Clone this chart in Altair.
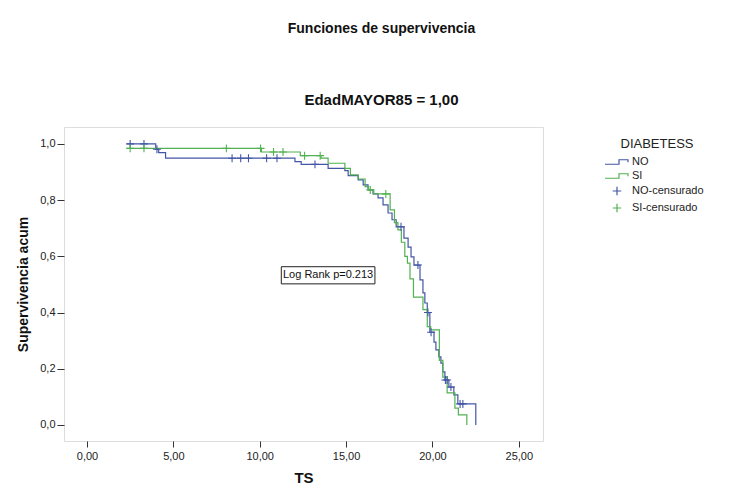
import altair as alt
import pandas as pd

FONT = "Liberation Sans"

# Kaplan-Meier step curves (time, cumulative survival after each event)
NO_TIEMPO = [2.3, 3.98, 4.15, 4.55, 12.04, 12.40, 13.96, 14.93, 15.12, 15.7, 15.99, 16.27,
             16.56, 16.85, 17.14, 17.43, 17.66, 17.9, 18.35, 18.59, 18.76, 18.93, 19.28,
             19.45, 19.56, 19.7, 19.85, 20.09, 20.2, 20.37, 20.49, 20.6, 20.72, 20.95,
             21.24, 21.47, 22.51]
NO_SUPERV = [1.0, 0.981, 0.969, 0.949, 0.937, 0.927, 0.913, 0.905, 0.887, 0.872, 0.854, 0.836,
             0.822, 0.808, 0.783, 0.754, 0.73, 0.705, 0.665, 0.633, 0.598, 0.569, 0.516,
             0.47, 0.434, 0.40, 0.33, 0.295, 0.267, 0.242, 0.22, 0.189, 0.16, 0.135,
             0.107, 0.075, 0.0]

SI_TIEMPO = [2.3, 10.1, 12.35, 13.55, 13.96, 14.93, 15.25, 15.7, 16.1, 16.3, 16.6, 17.55,
             17.8, 18.0, 18.2, 18.4, 18.55, 18.7, 18.9, 19.45, 19.7, 19.9, 20.4, 20.6,
             20.85, 21.3, 21.5, 21.99]
SI_SUPERV = [0.984, 0.971, 0.958, 0.949, 0.931, 0.913, 0.89, 0.875, 0.848, 0.836, 0.822, 0.765,
             0.72, 0.694, 0.65, 0.60, 0.576, 0.52, 0.455, 0.41, 0.35, 0.338, 0.23, 0.17,
             0.114, 0.06, 0.036, 0.0]

# censored observation times
NO_CENSURA = [2.5, 3.3, 4.05, 8.4, 8.9, 9.35, 10.4, 11.0, 13.2, 18.18, 19.16, 19.74,
              19.92, 20.75, 20.85, 21.07, 21.6, 21.76]
SI_CENSURA = [2.5, 3.3, 8.07, 10.05, 10.8, 11.35, 12.6, 13.5, 16.4, 17.3]

GRUPOS = ["NO", "SI", "NO-censurado", "SI-censurado"]
COLORES = ["#4356a6", "#52b150", "#4356a6", "#52b150"]
STEP_PATH = "M-2.4,0.45H0.4V-0.45H2.2V0.05"
CROSS_PATH = "M-0.85,0H0.85M0,-0.85V0.85"
FORMAS = [STEP_PATH, STEP_PATH, CROSS_PATH, CROSS_PATH]

X_TICKS = [0, 5, 10, 15, 20, 25]
Y_TICKS = [0.0, 0.2, 0.4, 0.6, 0.8, 1.0]

LOG_RANK_TEXTO = "Log Rank p=0.213"
LOG_RANK_CAJA = {"x": 11.25, "x2": 16.67, "y": 0.502, "y2": 0.563}


def superv_en(t, tiempos, superv):
    val = superv[0]
    for ti, si in zip(tiempos, superv):
        if ti <= t:
            val = si
    return val


curvas = pd.DataFrame(
    [{"TS": t, "S": s, "leyenda": "NO"} for t, s in zip(NO_TIEMPO, NO_SUPERV)]
    + [{"TS": t, "S": s, "leyenda": "SI"} for t, s in zip(SI_TIEMPO, SI_SUPERV)]
)
censuras = pd.DataFrame(
    [{"TS": t, "S": superv_en(t, NO_TIEMPO, NO_SUPERV), "leyenda": "NO-censurado"} for t in NO_CENSURA]
    + [{"TS": t, "S": superv_en(t, SI_TIEMPO, SI_SUPERV), "leyenda": "SI-censurado"} for t in SI_CENSURA]
)
caja = pd.DataFrame([dict(LOG_RANK_CAJA, texto=LOG_RANK_TEXTO)])

xscale = alt.Scale(domain=[-1.33, 26.4], nice=False, zero=False)
yscale = alt.Scale(domain=[-0.057, 1.06], nice=False, zero=False)
color_scale = alt.Scale(domain=GRUPOS, range=COLORES)
shape_scale = alt.Scale(domain=GRUPOS, range=FORMAS)

x_axis = alt.Axis(values=X_TICKS, title="TS", grid=False, domain=False,
                  labelExpr="replace(format(datum.value, '.2f'), '.', ',')",
                  tickSize=6, tickColor="#333", labelFontSize=11, labelFont=FONT,
                  labelColor="#222", labelPadding=3, titleFontSize=15, titleFont=FONT,
                  titleFontWeight="bold", titleColor="#111", titlePadding=9)
y_axis = alt.Axis(values=Y_TICKS, title="Supervivencia acum", grid=False, domain=False,
                  labelExpr="replace(format(datum.value, '.1f'), '.', ',')",
                  tickSize=7, tickColor="#333", labelFontSize=11, labelFont=FONT,
                  labelColor="#222", labelPadding=2, titleFontSize=14, titleFont=FONT,
                  titleFontWeight="bold", titleColor="#111", titlePadding=9)

leyenda = alt.Legend(title="DIABETESS", orient="none", legendX=547, legendY=11,
                     titleFontSize=13, titleFontWeight="normal", titleFont=FONT,
                     titleColor="#222", titleAnchor="middle", titlePadding=5,
                     labelFontSize=11, labelFont=FONT, labelColor="#222",
                     symbolSize=100, symbolStrokeWidth=1.2, labelOffset=9, rowPadding=3,
                     symbolFillColor="transparent")

lineas = alt.Chart(curvas).mark_line(interpolate="step-after", strokeWidth=1.2).encode(
    x=alt.X("TS:Q", scale=xscale, axis=x_axis),
    y=alt.Y("S:Q", scale=yscale, axis=y_axis),
    color=alt.Color("leyenda:N", scale=color_scale, legend=leyenda),
    detail="leyenda:N",
)

puntos = alt.Chart(censuras).mark_point(filled=False, size=88, strokeWidth=1.1, opacity=1).encode(
    x=alt.X("TS:Q", scale=xscale),
    y=alt.Y("S:Q", scale=yscale),
    color=alt.Color("leyenda:N", scale=color_scale, legend=leyenda),
    shape=alt.Shape("leyenda:N", scale=shape_scale, legend=leyenda),
)

rect = alt.Chart(caja).mark_rect(fill="white", stroke="#222", strokeWidth=1).encode(
    x="x:Q", x2="x2:Q", y="y:Q", y2="y2:Q"
)
texto = alt.Chart(caja).mark_text(font=FONT, fontSize=11, color="#111").transform_calculate(
    xc="(datum.x + datum.x2) / 2", yc="(datum.y + datum.y2) / 2"
).encode(x="xc:Q", y="yc:Q", text="texto:N")

chart = alt.layer(lineas, puntos, rect, texto).properties(
    width=479, height=314,
    padding={"left": 8, "top": 14, "right": 5, "bottom": 5},
    title=alt.TitleParams(
        text="Funciones de supervivencia", subtitle="EdadMAYOR85 = 1,00",
        anchor="middle", frame="group", dx=78,
        font=FONT, fontSize=14, fontWeight="bold", color="#111",
        subtitleFont=FONT, subtitleFontSize=15, subtitleFontWeight="bold",
        subtitleColor="#111", subtitlePadding=57, offset=19,
    ),
).configure_view(fill="#f0f0f0", stroke="#404040", strokeWidth=1
).configure(background="white")

chart.save("out.html", embed_options={"renderer": "svg", "actions": False})
